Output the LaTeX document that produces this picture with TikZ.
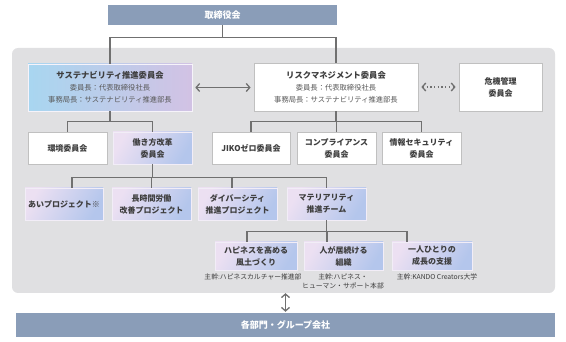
\documentclass[tikz,border=0pt]{standalone}
\usepackage{fontspec}
\setmainfont{Noto Sans CJK JP}
\usetikzlibrary{arrows.meta}

\definecolor{bandblue}{RGB}{138,157,184}
\definecolor{panelgray}{RGB}{224,224,226}
\definecolor{linegray}{RGB}{112,112,112}
\definecolor{edgegray}{RGB}{192,192,192}
\definecolor{textgray}{RGB}{62,62,62}
\definecolor{subgray}{RGB}{88,88,88}
\definecolor{skyblue}{RGB}{168,214,240}
\definecolor{lilac}{RGB}{210,194,228}
\definecolor{pinklilac}{RGB}{236,224,242}
\definecolor{paleblue}{RGB}{180,198,236}

\begin{document}
\begin{tikzpicture}[
  x=1pt, y=-1pt,
  every node/.style={inner sep=0pt, text=textgray},
  conn/.style={draw=linegray, line width=1.3pt},
  biarrow/.style={{Straight Barb[length=3.5pt,width=8pt]}-{Straight Barb[length=3.5pt,width=8pt]}},
  dotline/.style={dash pattern=on 1.3pt off 2.4pt},
  bandbox/.style={fill=bandblue, text=white, font=\bfseries\fontsize{9}{11}\selectfont},
  whitebox/.style={fill=white, draw=edgegray, line width=0.8pt, align=center,
    font=\bfseries\fontsize{8}{12}\selectfont},
  sustbox/.style={left color=skyblue, right color=lilac, draw=white!80!lilac,
    line width=0.6pt, align=center, font=\fontsize{7.3}{12}\selectfont},
  lilacbox/.style={left color=pinklilac, right color=paleblue, shading angle=60,
    draw=white!70!lilac, line width=0.6pt, align=center,
    font=\bfseries\fontsize{8}{12}\selectfont},
  unitbox/.style={minimum width=79pt, minimum height=32pt},
  caption/.style={font=\fontsize{6.8}{9}\selectfont, align=center},
]
  \useasboundingbox (0,0) rectangle (566,342);

  % 灰色底板
  \node[fill=panelgray, rounded corners=6pt, minimum width=543pt, minimum height=245pt]
    (panel) at (283.5,170.5) {};

  % 顶部与底部横条
  \node[bandbox, minimum width=229pt, minimum height=20pt] (board) at (222.5,15) {取締役会};
  \node[bandbox, minimum width=539pt, minimum height=24pt] (group) at (285.5,325) {各部門・グループ会社};

  % 两个主委员会
  \node[sustbox, minimum width=164pt, minimum height=47pt] (sust) at (110,87.5)
    {{\bfseries\fontsize{8.3}{12}\selectfont サステナビリティ推進委員会}\\
     \textcolor{subgray}{委員長：代表取締役社長}\\
     \textcolor{subgray}{事務局長：サステナビリティ推進部長}};
  \node[whitebox, font=\fontsize{7.3}{12}\selectfont, minimum width=164pt, minimum height=48pt]
    (risk) at (336,87)
    {{\bfseries\fontsize{8.3}{12}\selectfont リスクマネジメント委員会}\\
     \textcolor{subgray}{委員長：代表取締役社長}\\
     \textcolor{subgray}{事務局長：サステナビリティ推進部長}};
  \node[whitebox, minimum width=83pt, minimum height=48pt] (crisis) at (500.5,87)
    {危機管理\\委員会};

  % 第二层委员会
  \node[whitebox, unitbox] (kankyo)   at (67.5,148)  {環境委員会};
  \node[lilacbox, unitbox] (hataraki) at (152.5,148) {働き方改革\\委員会};
  \node[whitebox, unitbox, minimum width=78pt] (jiko) at (251,148) {JIKOゼロ委員会};
  \node[whitebox, unitbox] (comp)     at (336.5,148) {コンプライアンス\\委員会};
  \node[whitebox, unitbox] (joho)     at (421.5,148) {情報セキュリティ\\委員会};

  % 项目
  \node[lilacbox, unitbox, minimum width=78pt] (ai) at (64,204) {あいプロジェクト※};
  \node[lilacbox, unitbox] (choji) at (151.5,204) {長時間労働\\改善プロジェクト};
  \node[lilacbox, unitbox] (diver) at (237.5,204) {ダイバーシティ\\推進プロジェクト};
  \node[lilacbox, unitbox] (mate)  at (326.5,204) {マテリアリティ\\推進チーム};

  % 重要课题
  \node[lilacbox, minimum width=82pt, minimum height=28pt] (happy)  at (256,256)   {ハピネスを高める\\風土づくり};
  \node[lilacbox, minimum width=79pt, minimum height=28pt] (hito)   at (343.5,256) {人が居続ける\\組織};
  \node[lilacbox, minimum width=80pt, minimum height=28pt] (seicho) at (432,256)   {一人ひとりの\\成長の支援};

  \node[caption] (cap1) at (253,277) {主幹:ハピネスカルチャー推進部};
  \node[caption] (cap2) at (343,281.5) {主幹:ハピネス・\\ヒューマン・サポート本部};
  \node[caption] (cap3) at (437,277) {主幹:KANDO Creators大学};

  % 连接线
  \draw[conn] (board.south) -- ++(0,12) -| (sust.north);
  \draw[conn] (board.south) -- ++(0,12) -| (risk.north);

  \draw[conn, biarrow, shorten <=3pt, shorten >=3pt] (sust.east) -- (sust.east -| risk.west);
  \draw[conn, biarrow, dotline, shorten <=3pt, shorten >=3pt] (risk.east) -- (crisis.west);

  \foreach \n in {kankyo, hataraki}
    \draw[conn] (sust.south) -- ++(0,10) -| (\n.north);
  \foreach \n in {jiko, comp, joho}
    \draw[conn] (risk.south) -- ++(0,10) -| (\n.north);

  \foreach \n/\dx in {ai/8, choji/0, diver/-5.5, mate/0}
    \draw[conn] (hataraki.south) -- ++(0,13) -| ([xshift=\dx pt]\n.north);
  \foreach \n/\dx in {happy/-9, hito/-16.5, seicho/-25}
    \draw[conn] (mate.south) -- ++(0,11) -| ([xshift=\dx pt]\n.north);

  % 底部双向箭头
  \draw[conn, biarrow, shorten <=1pt] (group.north) -- (group.north |- panel.south);
\end{tikzpicture}
\end{document}
